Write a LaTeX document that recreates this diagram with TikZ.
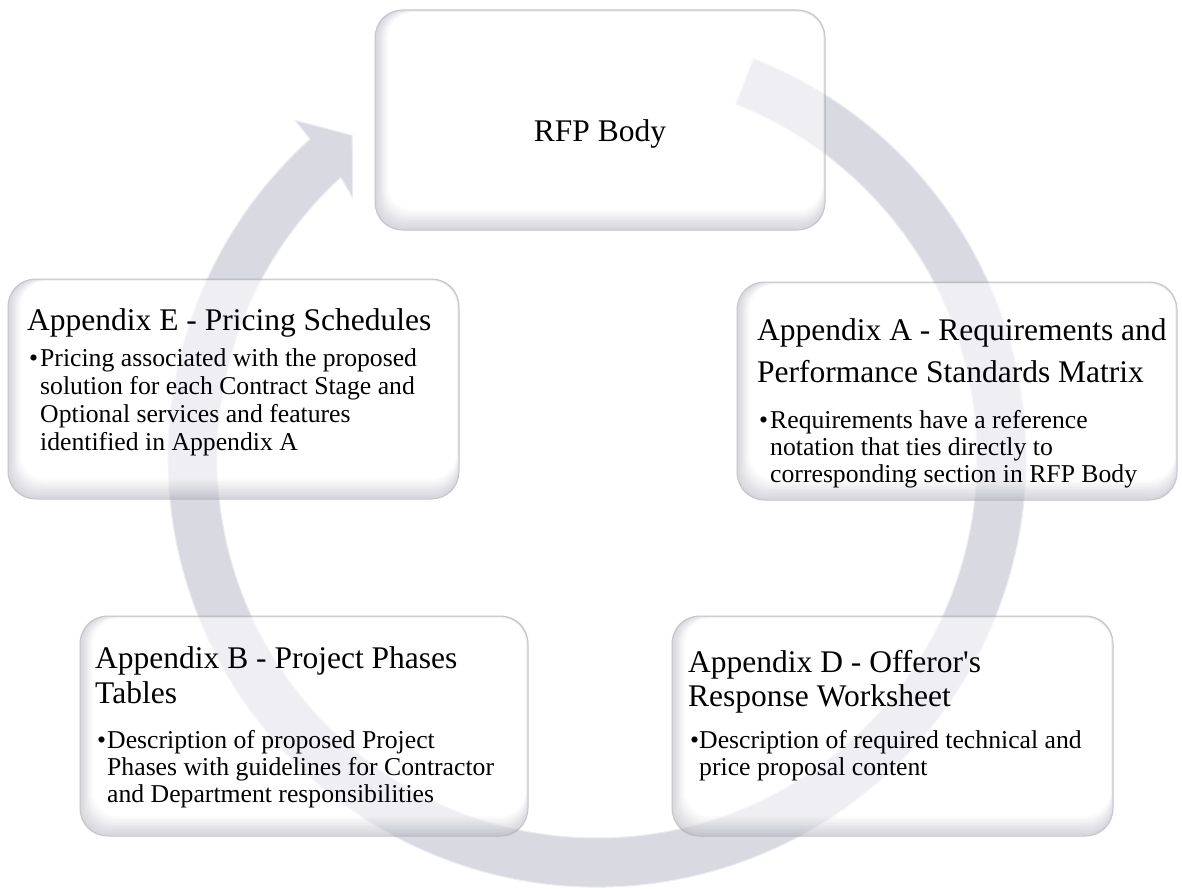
\documentclass[tikz,border=0pt]{standalone}
\usepackage{fontspec}
\setmainfont{Liberation Serif}
\newfontfamily\plainserif{Liberation Serif}
\usetikzlibrary{calc}
\definecolor{ringc}{RGB}{217,217,226}
\definecolor{ringedge}{RGB}{236,236,241}
\definecolor{shadec}{RGB}{185,185,196}
\definecolor{borderc}{RGB}{160,160,170}
\tikzset{
 boxnode/.style 2 args={minimum width=#1, minimum height=#2, inner sep=0pt, outer sep=0pt},
 titletext/.style={anchor=base west, inner sep=0pt, font=\plainserif\fontsize{31.5pt}{34pt}\selectfont},
 bodytext/.style={anchor=base west, inner sep=0pt, font=\plainserif\fontsize{25.7pt}{28pt}\selectfont},
}
\newcommand\bevelbox[1]{%
 \begin{scope}[transparency group, opacity=0.6]
  \foreach \i in {0,...,14}{
   \pgfmathtruncatemacro\c{\i*100/14}
   \fill[white!\c!shadec, rounded corners=26pt]
     ($(#1.south west)+(\i*0.9pt,\i*1.4pt)$) rectangle ($(#1.north east)+(-\i*0.15pt,-\i*0.15pt)$);
  }
  \draw[borderc, line width=1pt, rounded corners=28pt] (#1.south west) rectangle (#1.north east);
 \end{scope}}
\begin{document}
\begin{tikzpicture}[x=1pt,y=-1pt]
\useasboundingbox (0,0) rectangle (1182,888);
\fill[white] (0,0) rectangle (1182,888);
% circular arrow
\begin{scope}[shift={(597,458)}]
 \filldraw[fill=ringc, draw=ringedge, line width=1pt, line join=round]
  (68.6:429pt) arc[start angle=68.6, end angle=-228, radius=429pt]
  -- (-228.2:453pt) -- (-232.8:405pt) -- (-226.8:357pt) -- (-227.6:380pt)
  arc[start angle=-227.6, end angle=68.6, radius=380pt] -- cycle;
\end{scope}
% boxes
\node[boxnode={450pt}{220pt}] (rfp) at (600,120) {};
\node[boxnode={451pt}{220pt}] (appe) at (233.5,389) {};
\node[boxnode={440pt}{218pt}] (appa) at (957,391) {};
\node[boxnode={448pt}{220pt}] (appb) at (304,726) {};
\node[boxnode={441pt}{220pt}] (appd) at (892.5,726) {};
\bevelbox{rfp}
\bevelbox{appe}
\bevelbox{appa}
\bevelbox{appb}
\bevelbox{appd}
% texts
\node[titletext, anchor=base] (rfpt) at (600,142) {RFP Body};

\node[titletext] (et1) at (27,330) {Appendix E - Pricing Schedules};
\node[bodytext] (ebul) at (29,366) {•};
\node[bodytext] (eb1) at (40,366) {Pricing associated with the proposed};
\node[bodytext] (eb2) at (40,394) {solution for each Contract Stage and};
\node[bodytext] (eb3) at (40,422) {Optional services and features};
\node[bodytext] (eb4) at (40,450) {identified in Appendix A};

\node[titletext] (at1) at (757,340) {Appendix A - Requirements and};
\node[titletext] (at2) at (757,382) {Performance Standards Matrix};
\node[bodytext] (abul) at (759,428) {•};
\node[bodytext] (ab1) at (770,428) {Requirements have a reference};
\node[bodytext] (ab2) at (770,455) {notation that ties directly to};
\node[bodytext] (ab3) at (770,482) {corresponding section in RFP Body};

\node[titletext] (bt1) at (95,668) {Appendix B - Project Phases};
\node[titletext] (bt2) at (95,703) {Tables};
\node[bodytext] (bbul) at (97,748) {•};
\node[bodytext] (bb1) at (107,748) {Description of proposed Project};
\node[bodytext] (bb2) at (107,775) {Phases with guidelines for Contractor};
\node[bodytext] (bb3) at (107,802) {and Department responsibilities};

\node[titletext] (dt1) at (688,672) {Appendix D - Offeror's};
\node[titletext] (dt2) at (688,706) {Response Worksheet};
\node[bodytext] (dbul) at (690,748) {•};
\node[bodytext] (db1) at (699,748) {Description of required technical and};
\node[bodytext] (db2) at (699,775) {price proposal content};
\end{tikzpicture}
\end{document}
